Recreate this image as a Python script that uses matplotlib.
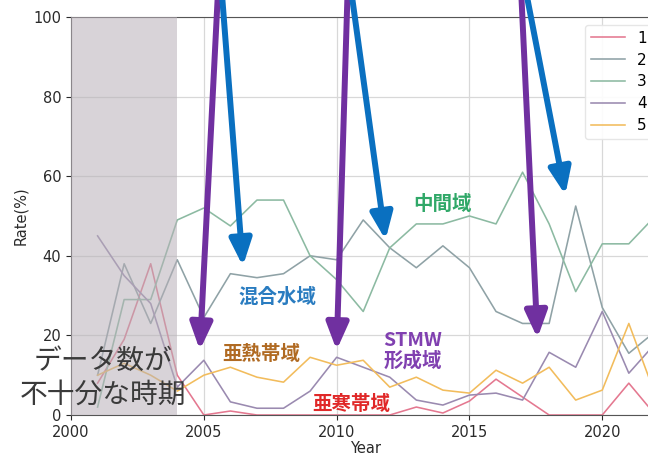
import matplotlib
matplotlib.use("Agg")
import matplotlib.pyplot as plt
import numpy as np

# 海域別の出現率 (%)
years = np.arange(2001, 2023)
labels = ["1", "2", "3", "4", "5"]
subarctic = [8, 19, 38, 10, 0, 1, 0, 0, 0, 0, 0, 0, 2, 0.5, 3.5, 9, 4.5, 0, 0, 0, 8, 0]
mixed = [10, 38, 23, 39, 24.5, 35.5, 34.5, 35.5, 40, 39, 49, 42, 37, 42.5, 37, 26, 23, 23, 52.5, 27, 15.5, 21]
middle = [2, 29, 29, 49, 52, 47.5, 54, 54, 40, 34, 26, 42, 48, 48, 50, 48, 61, 48, 31, 43, 43, 50]
stmw = [45, 35, 28, 7, 13.75, 3.3, 1.7, 1.7, 6, 14.5, 12, 9.5, 3.75, 2.5, 5, 5.5, 3.75, 15.75, 12, 26, 10.5, 18]
subtropical = [10, 13, 10, 6, 10, 12, 9.5, 8.25, 14.5, 12.5, 13.75, 7, 9.5, 6.25, 5.5, 11.25, 8, 12, 3.75, 6.25, 23, 5]

series = [subarctic, mixed, middle, stmw, subtropical]
colors = ["#e47890", "#8fa2a6", "#8cbaa2", "#9a8ab0", "#f2bc5c"]

JP = ["Noto Sans CJK JP", "DejaVu Sans"]

fig = plt.figure(figsize=(6.48, 4.57), dpi=100)
ax = fig.add_axes([0.1096, 0.0919, 0.91, 0.871])

for vals, c, lab in zip(series, colors, labels):
    ax.plot(years, vals, color=c, lw=1.15, label=lab, zorder=2)
# データ不足期間は上から薄く覆う
ax.axvspan(2000, 2004, color="#b8b0b8", alpha=0.55, lw=0, zorder=3)

ax.set_xlim(2000, 2022.2)
ax.set_ylim(0, 100)
ax.set_xticks([2000, 2005, 2010, 2015, 2020])
ax.set_yticks([0, 20, 40, 60, 80, 100])
ax.grid(True, color="#d8d8d8", lw=0.9, zorder=1)
ax.tick_params(labelsize=10.5, colors="#2a2a2a")
ax.set_xlabel("Year", fontsize=10.5, color="#2a2a2a", labelpad=1)
ax.set_ylabel("Rate(%)", fontsize=10.5, color="#2a2a2a")
for s in ax.spines.values():
    s.set_color("#555555")

ax.legend(loc="upper right", fontsize=11, labelspacing=0.45, handlelength=2.2,
          framealpha=0.9, edgecolor="#e4e4e4")

# 注釈の矢印
arrow_kw = dict(arrowstyle="-|>,head_length=0.8,head_width=0.33",
                mutation_scale=20, lw=4.3, shrinkA=0, shrinkB=0)
purple_arrows = [((2005.53, 106), (2004.85, 16.3)),
                 ((2010.41, 106), (2010.0, 16.3)),
                 ((2016.95, 106), (2017.56, 19.3))]
blue_arrows = [((2005.68, 106), (2006.47, 37.4)),
               ((2010.56, 106), (2011.84, 44.0)),
               ((2017.14, 106), (2018.61, 55.3))]
for start, tip in purple_arrows:
    ax.annotate("", xy=tip, xytext=start, annotation_clip=False,
                arrowprops=dict(color="#7030a0", **arrow_kw), zorder=5)
for start, tip in blue_arrows:
    ax.annotate("", xy=tip, xytext=start, annotation_clip=False,
                arrowprops=dict(color="#0a70c0", **arrow_kw), zorder=5)

# 海域名
ax.text(2007.78, 29.6, "混合水域", color="#2a7cc0", fontsize=14, fontweight="bold",
        ha="center", va="center", family=JP, zorder=6)
ax.text(2013.98, 53.0, "中間域", color="#30a868", fontsize=14, fontweight="bold",
        ha="center", va="center", family=JP, zorder=6)
ax.text(2007.18, 15.1, "亜熱帯域", color="#b06a22", fontsize=14, fontweight="bold",
        ha="center", va="center", family=JP, zorder=6)
ax.text(2012.86, 16.1, "STMW\n形成域", color="#8040b0", fontsize=14, fontweight="bold",
        ha="center", va="center", family=JP, linespacing=1.05, zorder=6)
ax.text(2010.56, 2.6, "亜寒帯域", color="#e02828", fontsize=14, fontweight="bold",
        ha="center", va="center", family=JP, zorder=6)

ax.text(2001.2, 9.3, "データ数が\n不十分な時期", color="#3a3a3a", fontsize=20,
        ha="center", va="center", family=JP, linespacing=1.15, zorder=6,
        clip_on=False)

fig.savefig("out.png", dpi=100)
